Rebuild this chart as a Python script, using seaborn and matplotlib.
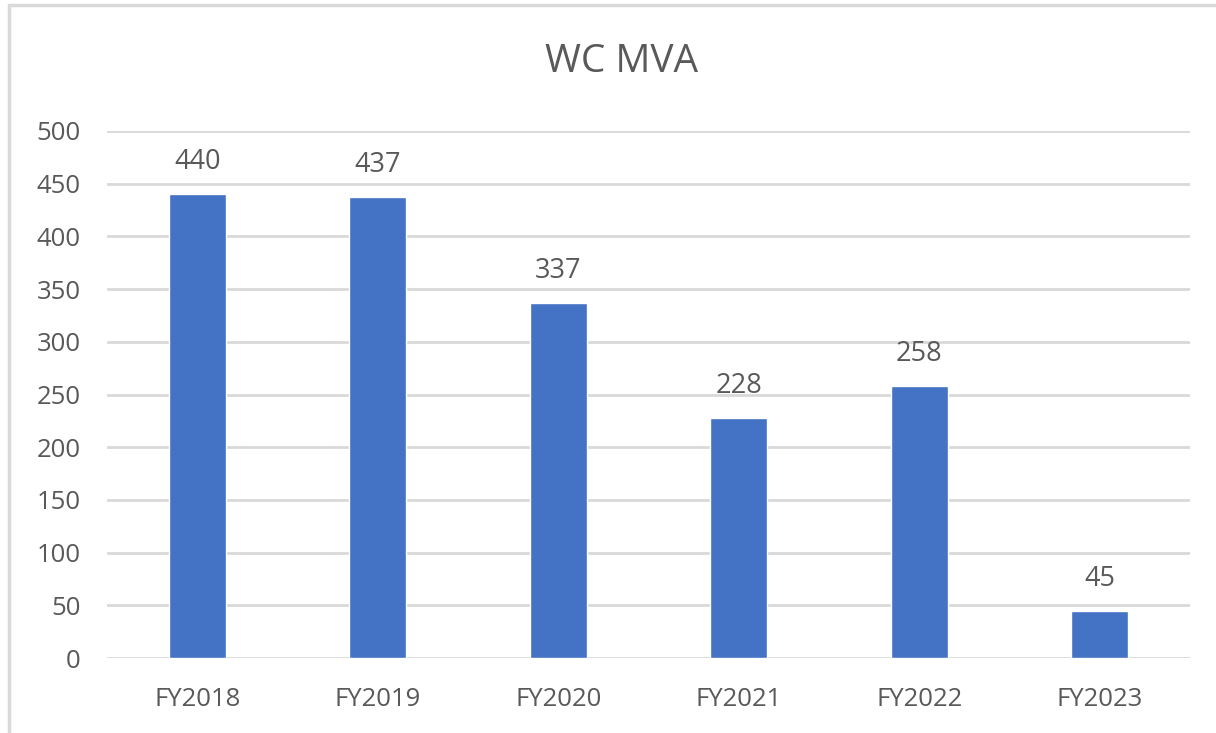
import matplotlib
matplotlib.use("Agg")
import matplotlib.pyplot as plt
import seaborn as sns
import pandas as pd
from matplotlib.patches import Rectangle

# values
years = ["FY2018", "FY2019", "FY2020", "FY2021", "FY2022", "FY2023"]
mva = [440, 437, 337, 228, 258, 45]
yticks = [0, 50, 100, 150, 200, 250, 300, 350, 400, 450, 500]

df = pd.DataFrame({"year": years, "mva": mva})

sns.set_style("white")
plt.rcParams["font.family"] = ["Open Sans", "DejaVu Sans"]
text_col = "#595959"
grid_col = "#D9D9D9"

fig = plt.figure(figsize=(12.16, 7.33), dpi=100)
ax = fig.add_axes([0.088, 0.1023, 0.8906, 0.719])

sns.barplot(data=df, x="year", y="mva", color="#4472C4", width=0.315,
            saturation=1, ax=ax, zorder=3)

ax.set_ylim(0, 500)
ax.set_xlim(-0.5, 5.5)
ax.set_yticks(yticks)
ax.yaxis.grid(True, color=grid_col, linewidth=2, zorder=0)
ax.set_axisbelow(True)
for s in ax.spines.values():
    s.set_visible(False)
ax.tick_params(axis="both", length=0, labelsize=18.5, labelcolor=text_col)
ax.tick_params(axis="x", pad=21)
ax.tick_params(axis="y", pad=19)
ax.set_xlabel("")
ax.set_ylabel("")

ax.bar_label(ax.containers[0], fmt="%d", padding=13, fontsize=19.5, color=text_col)

fig.text(0.511, 0.915, "WC MVA", ha="center", va="center", fontsize=28, color=text_col)

# chart frame (cropped at right and bottom)
fig.patches.append(Rectangle((9 / 1216, -0.1), 1.2, 1.1 - 5 / 733,
                             transform=fig.transFigure, fill=False,
                             edgecolor=grid_col, linewidth=2.5))

fig.savefig("out.png", dpi=100)
